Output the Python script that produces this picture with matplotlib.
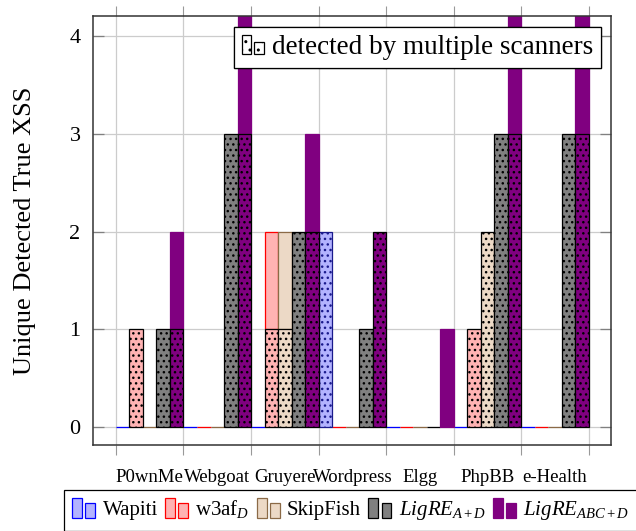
import matplotlib
matplotlib.use('Agg')
import matplotlib.pyplot as plt
import numpy as np
from matplotlib.patches import Rectangle, Patch
from matplotlib.legend_handler import HandlerBase

plt.rcParams['font.family'] = ['Liberation Serif', 'DejaVu Serif']
plt.rcParams['mathtext.fontset'] = 'custom'
plt.rcParams['mathtext.rm'] = 'Liberation Serif'
plt.rcParams['mathtext.it'] = 'Liberation Serif:italic'
plt.rcParams['hatch.linewidth'] = 1.0

# ---------------- data ----------------
apps = ['P0wnMe', 'Webgoat', 'Gruyere', 'Wordpress', 'Elgg', 'PhpBB', 'e-Health']
scanners = ['Wapiti', r'w3af$_D$', 'SkipFish', r'$LigRE_{A+D}$', r'$LigRE_{ABC+D}$']

# lower (dotted) part: XSS detected by multiple scanners
wapiti_multi = [0, 0, 0, 2, 0, 0, 0]
w3af_multi = [1, 0, 1, 0, 0, 1, 0]
skipfish_multi = [0, 0, 1, 0, 0, 2, 0]
ligre_ad_multi = [1, 3, 2, 1, 0, 3, 3]
ligre_abcd_multi = [1, 3, 2, 2, 0, 3, 3]

# upper (plain) part: XSS detected only by this scanner
wapiti_unique = [0, 0, 0, 0, 0, 0, 0]
w3af_unique = [0, 0, 1, 0, 0, 0, 0]
skipfish_unique = [0, 0, 1, 0, 0, 0, 0]
ligre_ad_unique = [0, 0, 0, 0, 0, 0, 0]
ligre_abcd_unique = [1, 2, 1, 0, 1, 2, 2]

multi = [wapiti_multi, w3af_multi, skipfish_multi, ligre_ad_multi, ligre_abcd_multi]
unique = [wapiti_unique, w3af_unique, skipfish_unique, ligre_ad_unique, ligre_abcd_unique]

fills = ['#b3b3ff', '#ffb3b3', '#ecd9c6', '#808080', '#800080']
edges_plain = ['#0000ff', '#ff0000', '#8b6a47', '#000000', '#800080']
edges_multi = ['#1a1a8c', '#000000', '#000000', '#000000', '#000000']

# ---------------- figure ----------------
fig = plt.figure(figsize=(6.36, 5.31), dpi=100)
ax = fig.add_axes([0.1462, 0.1620, 0.8145, 0.8079])

x = np.arange(len(apps))
w = 0.2
for j in range(len(scanners)):
    pos = x - 0.4 + w * j
    m = np.array(multi[j], dtype=float)
    u = np.array(unique[j], dtype=float)
    ec_u = [edges_plain[j] if (uu > 0 or mm == 0) else 'none' for uu, mm in zip(u, m)]
    ax.bar(pos, u, w, bottom=m, color=fills[j], edgecolor=ec_u, linewidth=0.9, zorder=2)
    ec_m = [edges_multi[j] if mm > 0 else 'none' for mm in m]
    ax.bar(pos, m, w, color=fills[j], edgecolor=ec_m, linewidth=0.9, hatch='...', zorder=3)

ax.set_xlim(-0.84, 6.83)
ax.set_ylim(-0.184, 4.205)

ax.set_xticks(x)
ax.set_xticklabels(apps, fontsize=13.5)
ax.tick_params(axis='x', which='major', length=0, pad=17)
ax.set_xticks(np.arange(len(apps) + 1) - 0.5, minor=True)
ax.tick_params(axis='x', which='minor', direction='out', length=7.5, width=0.8,
               color='#999999', top=True, bottom=True)
ax.grid(True, axis='x', which='minor', color='#cccccc', lw=0.9)

ax.set_yticks([0, 1, 2, 3, 4])
ax.tick_params(axis='y', direction='in', length=8, width=0.9, color='#808080',
               left=True, right=True, labelsize=16, pad=9)
ax.grid(True, axis='y', which='major', color='#cccccc', lw=0.9)
ax.set_axisbelow(True)

for s in ax.spines.values():
    s.set_color('#333333')
    s.set_linewidth(1.1)

ax.set_ylabel('Unique Detected True XSS', fontsize=19)
ax.yaxis.set_label_coords(-0.11, 0.5)


class HandlerTwoBars(HandlerBase):
    def __init__(self, ratio=0.7, **kw):
        super().__init__(**kw)
        self.ratio = ratio

    def create_artists(self, legend, orig_handle, xdescent, ydescent, width, height,
                       fontsize, trans):
        gap = 0.15 * width
        bw = (width - gap) / 2
        kw = dict(facecolor=orig_handle.get_facecolor(),
                  edgecolor=orig_handle.get_edgecolor(),
                  hatch=orig_handle.get_hatch(), lw=0.9, transform=trans)
        r1 = Rectangle((-xdescent, -ydescent), bw, height, **kw)
        r2 = Rectangle((-xdescent + bw + gap, -ydescent), bw, height * self.ratio, **kw)
        return [r1, r2]


# legend for the dotted part
multi_handle = Patch(facecolor='white', edgecolor='black', hatch='..')
leg1 = ax.legend([multi_handle], ['detected by multiple scanners'],
                 handler_map={Patch: HandlerTwoBars(ratio=0.65)},
                 loc='upper right', bbox_to_anchor=(0.9807, 0.9744), borderaxespad=0,
                 fontsize=19.5, handlelength=0.8, handleheight=0.7, handletextpad=0.3,
                 borderpad=0.3, fancybox=False, framealpha=1, edgecolor='black')
leg1.get_frame().set_linewidth(0.9)
ax.add_artist(leg1)

# legend for the scanners
handles = [Patch(facecolor=fills[j], edgecolor=edges_plain[j]) for j in range(len(scanners))]
leg2 = fig.legend(handles, scanners, handler_map={Patch: HandlerTwoBars(ratio=0.78)},
                  loc='upper left', bbox_to_anchor=(0.1006, 0.0772), ncol=5,
                  fontsize=15, handlelength=1.1, handleheight=1.1, handletextpad=0.35,
                  columnspacing=0.35, borderpad=0.4, borderaxespad=0,
                  fancybox=False, framealpha=1, edgecolor='black')
leg2.get_frame().set_linewidth(0.9)

fig.savefig('out.png', dpi=100)
